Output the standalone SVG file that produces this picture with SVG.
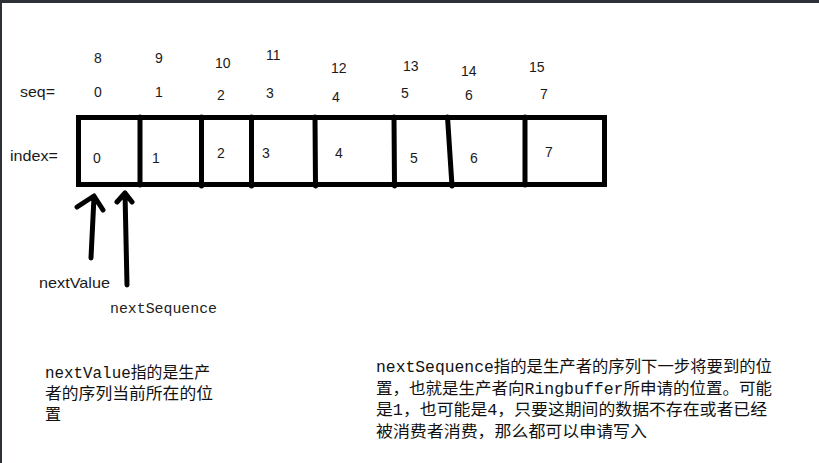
<svg xmlns="http://www.w3.org/2000/svg" width="819" height="463" viewBox="0 0 819 463">
<style>
.num{font-family:"Liberation Sans","Noto Sans",sans-serif;font-size:14px;fill:#1a1a1a}
.lbl{font-family:"Liberation Sans","Noto Sans",sans-serif;font-size:15px;fill:#1a1a1a}
.cjk{font-family:"Liberation Mono","Noto Sans CJK SC",monospace;font-size:16px;fill:#111}
.box{fill:none;stroke:#000;stroke-width:5}
.div{stroke:#000;stroke-width:5;stroke-linecap:round}
.arr{fill:none;stroke:#000;stroke-width:5;stroke-linecap:round;stroke-linejoin:round}
</style>
<rect x="0" y="0" width="819" height="463" fill="#fff"/>
<rect x="0" y="0" width="819" height="3" fill="#2d3238"/>
<rect x="0" y="0" width="2" height="463" fill="#2d3238"/>

<g id="labels">
<text class="lbl" x="20" y="97" textLength="35" lengthAdjust="spacingAndGlyphs">seq=</text>
<text class="lbl" x="10" y="161" textLength="48" lengthAdjust="spacingAndGlyphs">index=</text>
</g>

<g id="seq-high">
<text class="num" x="94" y="63">8</text>
<text class="num" x="155" y="63">9</text>
<text class="num" x="215" y="68">10</text>
<text class="num" x="266" y="60">11</text>
<text class="num" x="331" y="73">12</text>
<text class="num" x="403" y="71">13</text>
<text class="num" x="461" y="76">14</text>
<text class="num" x="529" y="72">15</text>
</g>
<g id="seq-low">
<text class="num" x="94" y="97">0</text>
<text class="num" x="155" y="97">1</text>
<text class="num" x="217" y="100">2</text>
<text class="num" x="266" y="98">3</text>
<text class="num" x="332" y="102">4</text>
<text class="num" x="401" y="98">5</text>
<text class="num" x="465" y="100">6</text>
<text class="num" x="540" y="99">7</text>
</g>

<g id="ringbuffer">
<rect class="box" x="78.5" y="117.5" width="526" height="67"/>
<line class="div" x1="140" y1="117" x2="140" y2="185"/>
<line class="div" x1="201.5" y1="117" x2="201.5" y2="186"/>
<line class="div" x1="251.5" y1="117" x2="251.5" y2="186"/>
<line class="div" x1="315" y1="117" x2="315.5" y2="186"/>
<line class="div" x1="394" y1="117" x2="394.5" y2="186"/>
<line class="div" x1="447.5" y1="117" x2="452" y2="186"/>
<line class="div" x1="525" y1="117" x2="525" y2="185"/>
<text class="num" x="93" y="163">0</text>
<text class="num" x="152" y="163">1</text>
<text class="num" x="217" y="158">2</text>
<text class="num" x="262" y="158">3</text>
<text class="num" x="335" y="158">4</text>
<text class="num" x="410" y="163">5</text>
<text class="num" x="470" y="163">6</text>
<text class="num" x="545" y="157">7</text>
</g>

<g id="connectors">
<path class="arr" d="M91,258 L94,197 M77,207 L94,196 L103,210"/>
<path class="arr" d="M127,285 L125,193 M117,202 L125,193 L132,202"/>
</g>

<g id="nextValue">
<text class="lbl" x="39" y="288" textLength="71" lengthAdjust="spacingAndGlyphs">nextValue</text>
</g>
<g id="nextSequence">
<text x="110" y="313" font-family="Liberation Mono, monospace" font-size="15" fill="#222" textLength="107" lengthAdjust="spacingAndGlyphs">nextSequence</text>
</g>

<g id="note-left">
<text class="cjk" x="45" y="378" textLength="165" lengthAdjust="spacingAndGlyphs">nextValue指的是生产</text>
<text class="cjk" x="45" y="399" textLength="168" lengthAdjust="spacingAndGlyphs">者的序列当前所在的位</text>
<text class="cjk" x="45" y="420">置</text>
</g>
<g id="note-right">
<text class="cjk" x="376" y="372" textLength="396" lengthAdjust="spacingAndGlyphs">nextSequence指的是生产者的序列下一步将要到的位</text>
<text class="cjk" x="376" y="394" textLength="396" lengthAdjust="spacingAndGlyphs">置，也就是生产者向Ringbuffer所申请的位置。可能</text>
<text class="cjk" x="376" y="415" textLength="391" lengthAdjust="spacingAndGlyphs">是1，也可能是4，只要这期间的数据不存在或者已经</text>
<text class="cjk" x="376" y="437" textLength="271" lengthAdjust="spacingAndGlyphs">被消费者消费，那么都可以申请写入</text>
</g>
</svg>
